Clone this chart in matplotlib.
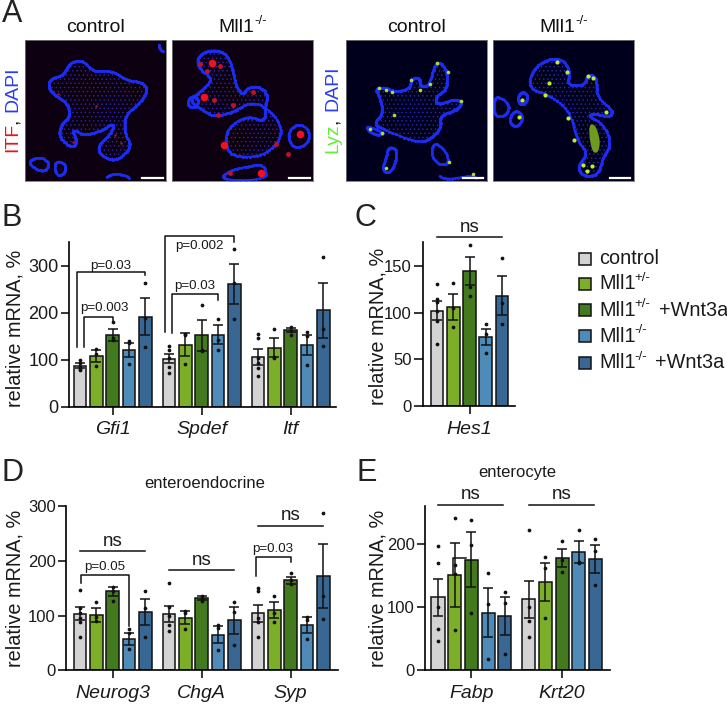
import matplotlib
matplotlib.use("Agg")
import matplotlib.pyplot as plt
from matplotlib.patches import Polygon, Rectangle

plt.rcParams['font.family'] = ['Liberation Sans', 'DejaVu Sans']
plt.rcParams['hatch.linewidth'] = 0.5

W, H = 727, 704
INK = "#1a1a1a"

colors = ["#d3d3d3", "#7dae2a", "#437a1e", "#4e8bb8", "#386794"]
legend_names = ["control", "Mll1", "Mll1", "Mll1", "Mll1"]
legend_sups = ["", "+/-", "+/-", "-/-", "-/-"]
legend_extra = ["", "", "+Wnt3a", "", "+Wnt3a"]

# panel B
b_genes = ["Gfi1", "Spdef", "Itf"]
b_means = [[87, 107, 153, 121, 191], [102, 132, 152, 153, 261], [105, 125, 163, 131, 205]]
b_errs = [[5, 13, 13, 15, 39], [10, 25, 33, 20, 43], [17, 20, 5, 21, 58]]
b_points = [
    [[100, 92, 85, 80, 78], [122, 113, 87], [179, 142, 146], [140, 135, 91], [262, 188, 126]],
    [[128, 120, 103, 85, 71], [155, 152, 91], [216, 121, 118], [186, 142, 120], [335, 262, 186]],
    [[155, 147, 103, 92, 82, 65], [165, 106, 104], [169, 160, 152], [158, 151, 89], [318, 165, 129]],
]
# panel C
c_genes = ["Hes1"]
c_means = [[102, 106, 145, 74, 118]]
c_errs = [[10, 14, 15, 9, 21]]
c_points = [[[131, 115, 111, 102, 91, 66], [132, 105, 85], [172, 128, 118], [88, 77, 57], [159, 110, 88]]]
# panel D
d_genes = ["Neurog3", "ChgA", "Syp"]
d_means = [[103, 101, 144, 58, 106], [103, 96, 132, 65, 91], [104, 110, 164, 83, 172]]
d_errs = [[12, 12, 9, 11, 24], [14, 12, 4, 15, 24], [15, 14, 7, 14, 59]]
d_points = [
    [[147, 114, 104, 95, 89, 61], [125, 97, 90], [153, 144, 127], [75, 68, 38], [144, 114, 61]],
    [[159, 116, 100, 82, 71], [109, 104, 75], [136, 131, 127], [83, 77, 37], [124, 106, 46]],
    [[150, 144, 95, 89, 61], [136, 104, 88], [177, 165, 158], [97, 92, 57], [287, 135, 94]],
]
# panel E
e_genes = ["Fabp", "Krt20"]
e_means = [[115, 151, 175, 91, 85], [112, 140, 178, 187, 176]]
e_errs = [[29, 51, 44, 39, 30], [29, 30, 14, 18, 22]]
e_points = [
    [[196, 170, 100, 65, 46], [241, 167, 152, 63], [238, 198, 90], [153, 104, 18], [124, 106, 26]],
    [[222, 100, 77, 52], [179, 161, 82], [204, 175, 156], [222, 172, 169], [207, 188, 135]],
]
# stray outline behind the second Fabp bar in the original figure
e_stray_top = 178

# micrograph traces, in zoomed pixels of the top row
a1_tissue = [(150, 235), (190, 225), (210, 185), (250, 178), (280, 215), (340, 210), (380, 240), (430, 245),
             (445, 270), (420, 310), (375, 345), (375, 400), (398, 440), (350, 485), (300, 465), (295, 435),
             (335, 400), (345, 365), (300, 395), (250, 405), (215, 385), (232, 425), (215, 445), (175, 410),
             (185, 370), (210, 350), (205, 310), (165, 285), (145, 260)]
a1_loops = [[(165, 485), (190, 485), (200, 510), (180, 530), (165, 515)],
            [(85, 480), (125, 470), (150, 490), (135, 515), (100, 505)],
            [(310, 540), (335, 520), (380, 525), (395, 542)],
            [(478, 122), (480, 145), (498, 158)]]
a1_spots = [(290, 318), (175, 280), (345, 405), (365, 428), (220, 425)]
a2_tissue = [(565, 300), (605, 270), (640, 235), (595, 205), (590, 170), (625, 148), (670, 152), (695, 190),
             (705, 250), (725, 285), (745, 260), (780, 258), (805, 285), (795, 320), (795, 365), (740, 345),
             (680, 385), (675, 440), (700, 470), (790, 470), (850, 410), (830, 345), (760, 300), (700, 335),
             (640, 350), (600, 325)]
a2_loops = [[(560, 305), (575, 285), (595, 295), (590, 318), (570, 322)],
            [(865, 395), (895, 368), (930, 390), (925, 430), (890, 445), (868, 425)],
            [(655, 540), (690, 510), (740, 500), (790, 490), (805, 540)]]
a2_spots = [(635, 187), (612, 290), (642, 300), (700, 313), (655, 345), (760, 275), (900, 400), (672, 433),
            (828, 432), (782, 520), (865, 463), (690, 518), (600, 190), (660, 195), (620, 212)]
a2_big = [(635, 187), (900, 400), (782, 520), (612, 290), (672, 433)]
a3_tissue = [(105, 265), (135, 260), (165, 275), (210, 265), (215, 235), (240, 230), (240, 260), (270, 255),
             (285, 190), (305, 185), (325, 220), (320, 270), (285, 290), (295, 315), (345, 295), (370, 305),
             (350, 330), (300, 345), (305, 380), (280, 410), (240, 430), (135, 390), (100, 370), (130, 340), (120, 290)]
a3_loops = [[(145, 440), (170, 445), (170, 480), (150, 520), (125, 510), (140, 470)],
            [(280, 425), (275, 470), (300, 495), (330, 490), (315, 445)],
            [(285, 520), (320, 540), (400, 525), (415, 540)],
            [(80, 378), (105, 385), (135, 400), (110, 405), (85, 392)]]
a3_spots = [(292, 187), (325, 215), (272, 250), (240, 268), (213, 238), (118, 262), (138, 268), (157, 275),
            (162, 345), (90, 385), (128, 397), (365, 302), (328, 487), (140, 505), (400, 523)]
a4_tissue = [(565, 265), (575, 210), (620, 175), (670, 175), (690, 215), (680, 255), (735, 255), (740, 225),
             (770, 225), (770, 290), (820, 330), (810, 350), (770, 340), (740, 345), (790, 370), (815, 430),
             (790, 470), (775, 525), (730, 530), (710, 500), (745, 460), (710, 420), (690, 330), (620, 280)]
a4_loops = [[(533, 285), (550, 272), (565, 290), (550, 315), (535, 308)],
            [(510, 345), (530, 328), (550, 350), (535, 378), (510, 375)],
            [(460, 288), (490, 295), (510, 322), (490, 350), (460, 345)]]
a4_spots = [(745, 228), (760, 232), (800, 335), (615, 283), (627, 247), (683, 353), (535, 350), (545, 298),
            (730, 495), (755, 498), (740, 512), (650, 185), (680, 215), (703, 418)]
a4_streak = [(745, 375), (765, 370), (782, 420), (775, 460), (755, 455)]


def px_axes(fig, x0, x1, y_top, y_bottom, **kw):
    return fig.add_axes([x0 / W, 1 - y_bottom / H, (x1 - x0) / W, (y_bottom - y_top) / H], **kw)


def px_text(fig, x, y, s, **kw):
    kw.setdefault("color", INK)
    kw.setdefault("ha", "center")
    kw.setdefault("va", "center")
    return fig.text(x / W, 1 - y / H, s, **kw)


def smooth(points, rounds=3, closed=True):
    # corner cutting so the traces do not look like polygons
    pts = list(points)
    for _ in range(rounds):
        new = []
        n = len(pts)
        for i in range(n if closed else n - 1):
            a, b = pts[i], pts[(i + 1) % n]
            new.append((0.75 * a[0] + 0.25 * b[0], 0.75 * a[1] + 0.25 * b[1]))
            new.append((0.25 * a[0] + 0.75 * b[0], 0.25 * a[1] + 0.75 * b[1]))
        pts = new
    if closed:
        pts.append(pts[0])
    return pts


def micrograph(fig, box, offset, tissue, loops, bg, scale_x):
    ax = px_axes(fig, box[0], box[1], 40, 181)
    ax.set_facecolor(bg)
    ax.set_xlim(offset, offset + 425)
    ax.set_ylim(543, 118)
    ax.set_xticks([])
    ax.set_yticks([])
    for s in ax.spines.values():
        s.set_color("#777777")
        s.set_linewidth(0.6)
    t = smooth(tissue)
    ax.add_patch(Polygon(t, closed=True, facecolor=bg, edgecolor="#2828b0", hatch="....", linewidth=0))
    ax.plot([p[0] for p in t], [p[1] for p in t], color="#1c2cf0", lw=1.4)
    ax.plot([p[0] for p in t], [p[1] for p in t], "o", color="#1c2cf0", ms=2.3, mew=0)
    for loop in loops:
        l = smooth(loop, closed=len(loop) > 4)
        ax.plot([p[0] for p in l], [p[1] for p in l], color="#1c2cf0", lw=1.3)
        ax.plot([p[0] for p in l], [p[1] for p in l], "o", color="#1c2cf0", ms=2.1, mew=0)
    ax.plot(scale_x, [533, 533], color="white", lw=1.6)
    return ax


def panel(fig, x0, x1, y_top, y_bottom, ymax, yticks, genes, means, errs, points, first_bar, bar_step,
          gap=5.45, tick_size=12, ytick_len=5.5):
    left = (x0 - first_bar) / bar_step
    right = (x1 - first_bar) / bar_step
    ax = px_axes(fig, x0, x1, y_top, y_bottom)
    ax.patch.set_alpha(0)
    centers = []
    for g in range(len(genes)):
        for i in range(5):
            x = g * gap + i
            ax.bar(x, means[g][i], width=0.78, color=colors[i], edgecolor="#111111", linewidth=1.1, zorder=2)
            ax.errorbar(x, means[g][i], yerr=errs[g][i], color="#111111", elinewidth=1.1,
                        capsize=3.4, capthick=1.1, zorder=3)
            ax.plot([x] * len(points[g][i]), points[g][i], "o", color="#111111", ms=2.7, mew=0,
                    zorder=4, clip_on=False)
        centers.append(g * gap + 2)
    ax.set_xlim(left, right)
    ax.set_ylim(0, ymax)
    ax.set_xticks(centers)
    ax.set_xticklabels(genes, fontstyle="italic", fontsize=14, color=INK)
    ax.set_yticks(yticks)
    ax.tick_params(axis="y", labelsize=tick_size, length=ytick_len, width=1.1, pad=2, labelcolor=INK)
    ax.tick_params(axis="x", length=5.5, width=1.1, pad=5)
    for s in ["top", "right"]:
        ax.spines[s].set_visible(False)
    for s in ["left", "bottom"]:
        ax.spines[s].set_linewidth(1.2)
    return ax


def bracket(ax, x0, x1, top, drop0, drop1, label, label_y, label_x=None):
    ax.plot([x0, x0, x1, x1], [drop0, top, top, drop1], color="#111111", lw=1.1, clip_on=False, zorder=5)
    if label_x is None:
        label_x = (x0 + x1) / 2
    ax.text(label_x, label_y, label, fontsize=9.6, color=INK, ha="center", va="center", clip_on=False)


def ns_line(ax, x0, x1, y, label_y):
    ax.plot([x0, x1], [y, y], color="#111111", lw=1.1, clip_on=False)
    ax.text((x0 + x1) / 2, label_y, "ns", fontsize=13.5, color=INK, ha="center", va="center", clip_on=False)


fig = plt.figure(figsize=(W / 100, H / 100), dpi=100)

# panel A, the micrographs
ax1 = micrograph(fig, (25, 166), 75, a1_tissue, a1_loops, "#0d0010", [428, 490])
ax1.plot(*zip(*a1_spots), "o", color="#b01030", ms=1.8, mew=0)
ax2 = micrograph(fig, (172, 313), 515, a2_tissue, a2_loops, "#0d0010", [868, 930])
ax2.plot(*zip(*a2_spots), "o", color="#c01030", ms=3.5, mew=0)
ax2.plot(*zip(*a2_big), "o", color="#f01020", ms=5.5, mew=0)
ax3 = micrograph(fig, (346, 487), 18, a3_tissue, a3_loops, "#00001c", [372, 432])
ax3.plot(*zip(*a3_spots), "o", color="#a8e030", ms=2.6, mew=0)
ax4 = micrograph(fig, (493, 634), 458, a4_tissue, a4_loops, "#00001c", [810, 872])
ax4.add_patch(Polygon(smooth(a4_streak), closed=True, facecolor="#6f9a20", edgecolor="none"))
ax4.plot(*zip(*a4_spots), "o", color="#b8f030", ms=3, mew=0)

px_text(fig, 96, 27, "control", fontsize=14, color="#111111")
px_text(fig, 417, 27, "control", fontsize=14, color="#111111")
for x in [218, 539]:
    px_text(fig, x, 27, "Mll1", fontsize=14, color="#111111", ha="left")
    px_text(fig, x + 36, 21, "-/-", fontsize=9.5, color="#111111", ha="left")
px_text(fig, 13, 152, "ITF", fontsize=14, color="#e8141c", rotation=90, va="bottom")
px_text(fig, 13, 124, ",", fontsize=14, color="#111111", rotation=90, va="bottom")
px_text(fig, 13, 112, "DAPI", fontsize=14, color="#2a3cf0", rotation=90, va="bottom")
px_text(fig, 333, 153, "Lyz", fontsize=14, color="#66ee33", rotation=90, va="bottom")
px_text(fig, 333, 124, ",", fontsize=14, color="#111111", rotation=90, va="bottom")
px_text(fig, 333, 111, "DAPI", fontsize=14, color="#2a3cf0", rotation=90, va="bottom")

for x, y, s in [(2, 14, "A"), (2, 218, "B"), (365, 218, "C"), (2, 473, "D"), (367, 473, "E")]:
    px_text(fig, x, y, s, fontsize=22, ha="left" if x < 10 else "center", color="#222222")

# panel B
axb = panel(fig, 69, 336, 242, 406.7, 350, [0, 100, 200, 300], b_genes, b_means, b_errs, b_points, 80, 16.33,
            tick_size=13)
bracket(axb, -0.2, 4, 287, 126, 280, "p=0.03", 300)
bracket(axb, 0.27, 2, 190, 126, 183, "p=0.003", 209, label_x=1.47)
bracket(axb, 5.2, 9.45, 363, 158, 351, "p=0.002", 341)
bracket(axb, 5.62, 8.45, 240, 156, 227, "p=0.03", 257)
px_text(fig, 15, 328, "relative mRNA, %", fontsize=14.3, rotation=90)

# panel C
axc = panel(fig, 423.3, 515, 241.7, 406, 176, [0, 50, 100, 150], c_genes, c_means, c_errs, c_points, 437, 16.25,
            ytick_len=6.5)
ns_line(axc, 0, 4, 181, 191)
px_text(fig, 378, 326, "relative mRNA, %", fontsize=14.3, rotation=90)

# panel D
axd = panel(fig, 66, 338, 506, 670.3, 300, [0, 100, 200, 300], d_genes, d_means, d_errs, d_points, 80, 16.33)
ns_line(axd, 0, 4, 217, 235)
ns_line(axd, 5.45, 9.45, 184, 201)
ns_line(axd, 10.9, 14.9, 264, 283)
bracket(axd, 0.06, 3, 174, 160, 80, "p=0.05", 189)
bracket(axd, 10.75, 12.9, 206, 172, 197, "p=0.03", 221)
px_text(fig, 205, 483, "enteroendocrine", fontsize=12)
px_text(fig, 15, 588, "relative mRNA, %", fontsize=14.3, rotation=90)

# panel E
axe = panel(fig, 425, 610, 506, 670, 260, [0, 100, 200], e_genes, e_means, e_errs, e_points, 438, 16.67, gap=5.44)
axe.plot([0.9, 0.9, 1.65], [e_means[0][1], e_stray_top, e_stray_top], color="#111111", lw=1.1, zorder=1)
ns_line(axe, 0, 3.92, 261, 278)
ns_line(axe, 5.44, 9.36, 261, 278)
px_text(fig, 517, 473, "enterocyte", fontsize=12)
px_text(fig, 378, 588, "relative mRNA, %", fontsize=14.3, rotation=90)

# legend, built by hand because the superscripts need tight spacing
legend_rows = [259, 284, 310, 336, 363]
for i, y in enumerate(legend_rows):
    fig.add_artist(Rectangle((579 / W, 1 - (y + 6) / H), 12 / W, 12 / H, transform=fig.transFigure,
                             facecolor=colors[i], edgecolor="#111111", linewidth=1.1))
    px_text(fig, 599, y, legend_names[i], fontsize=14.3, ha="left")
    if legend_sups[i]:
        px_text(fig, 634, y - 6, legend_sups[i], fontsize=9.5, ha="left")
    if legend_extra[i]:
        extra_x = 659 if "+" in legend_sups[i] else 655
        px_text(fig, extra_x, y, legend_extra[i], fontsize=14.3, ha="left")

fig.savefig("out.png", dpi=100)
